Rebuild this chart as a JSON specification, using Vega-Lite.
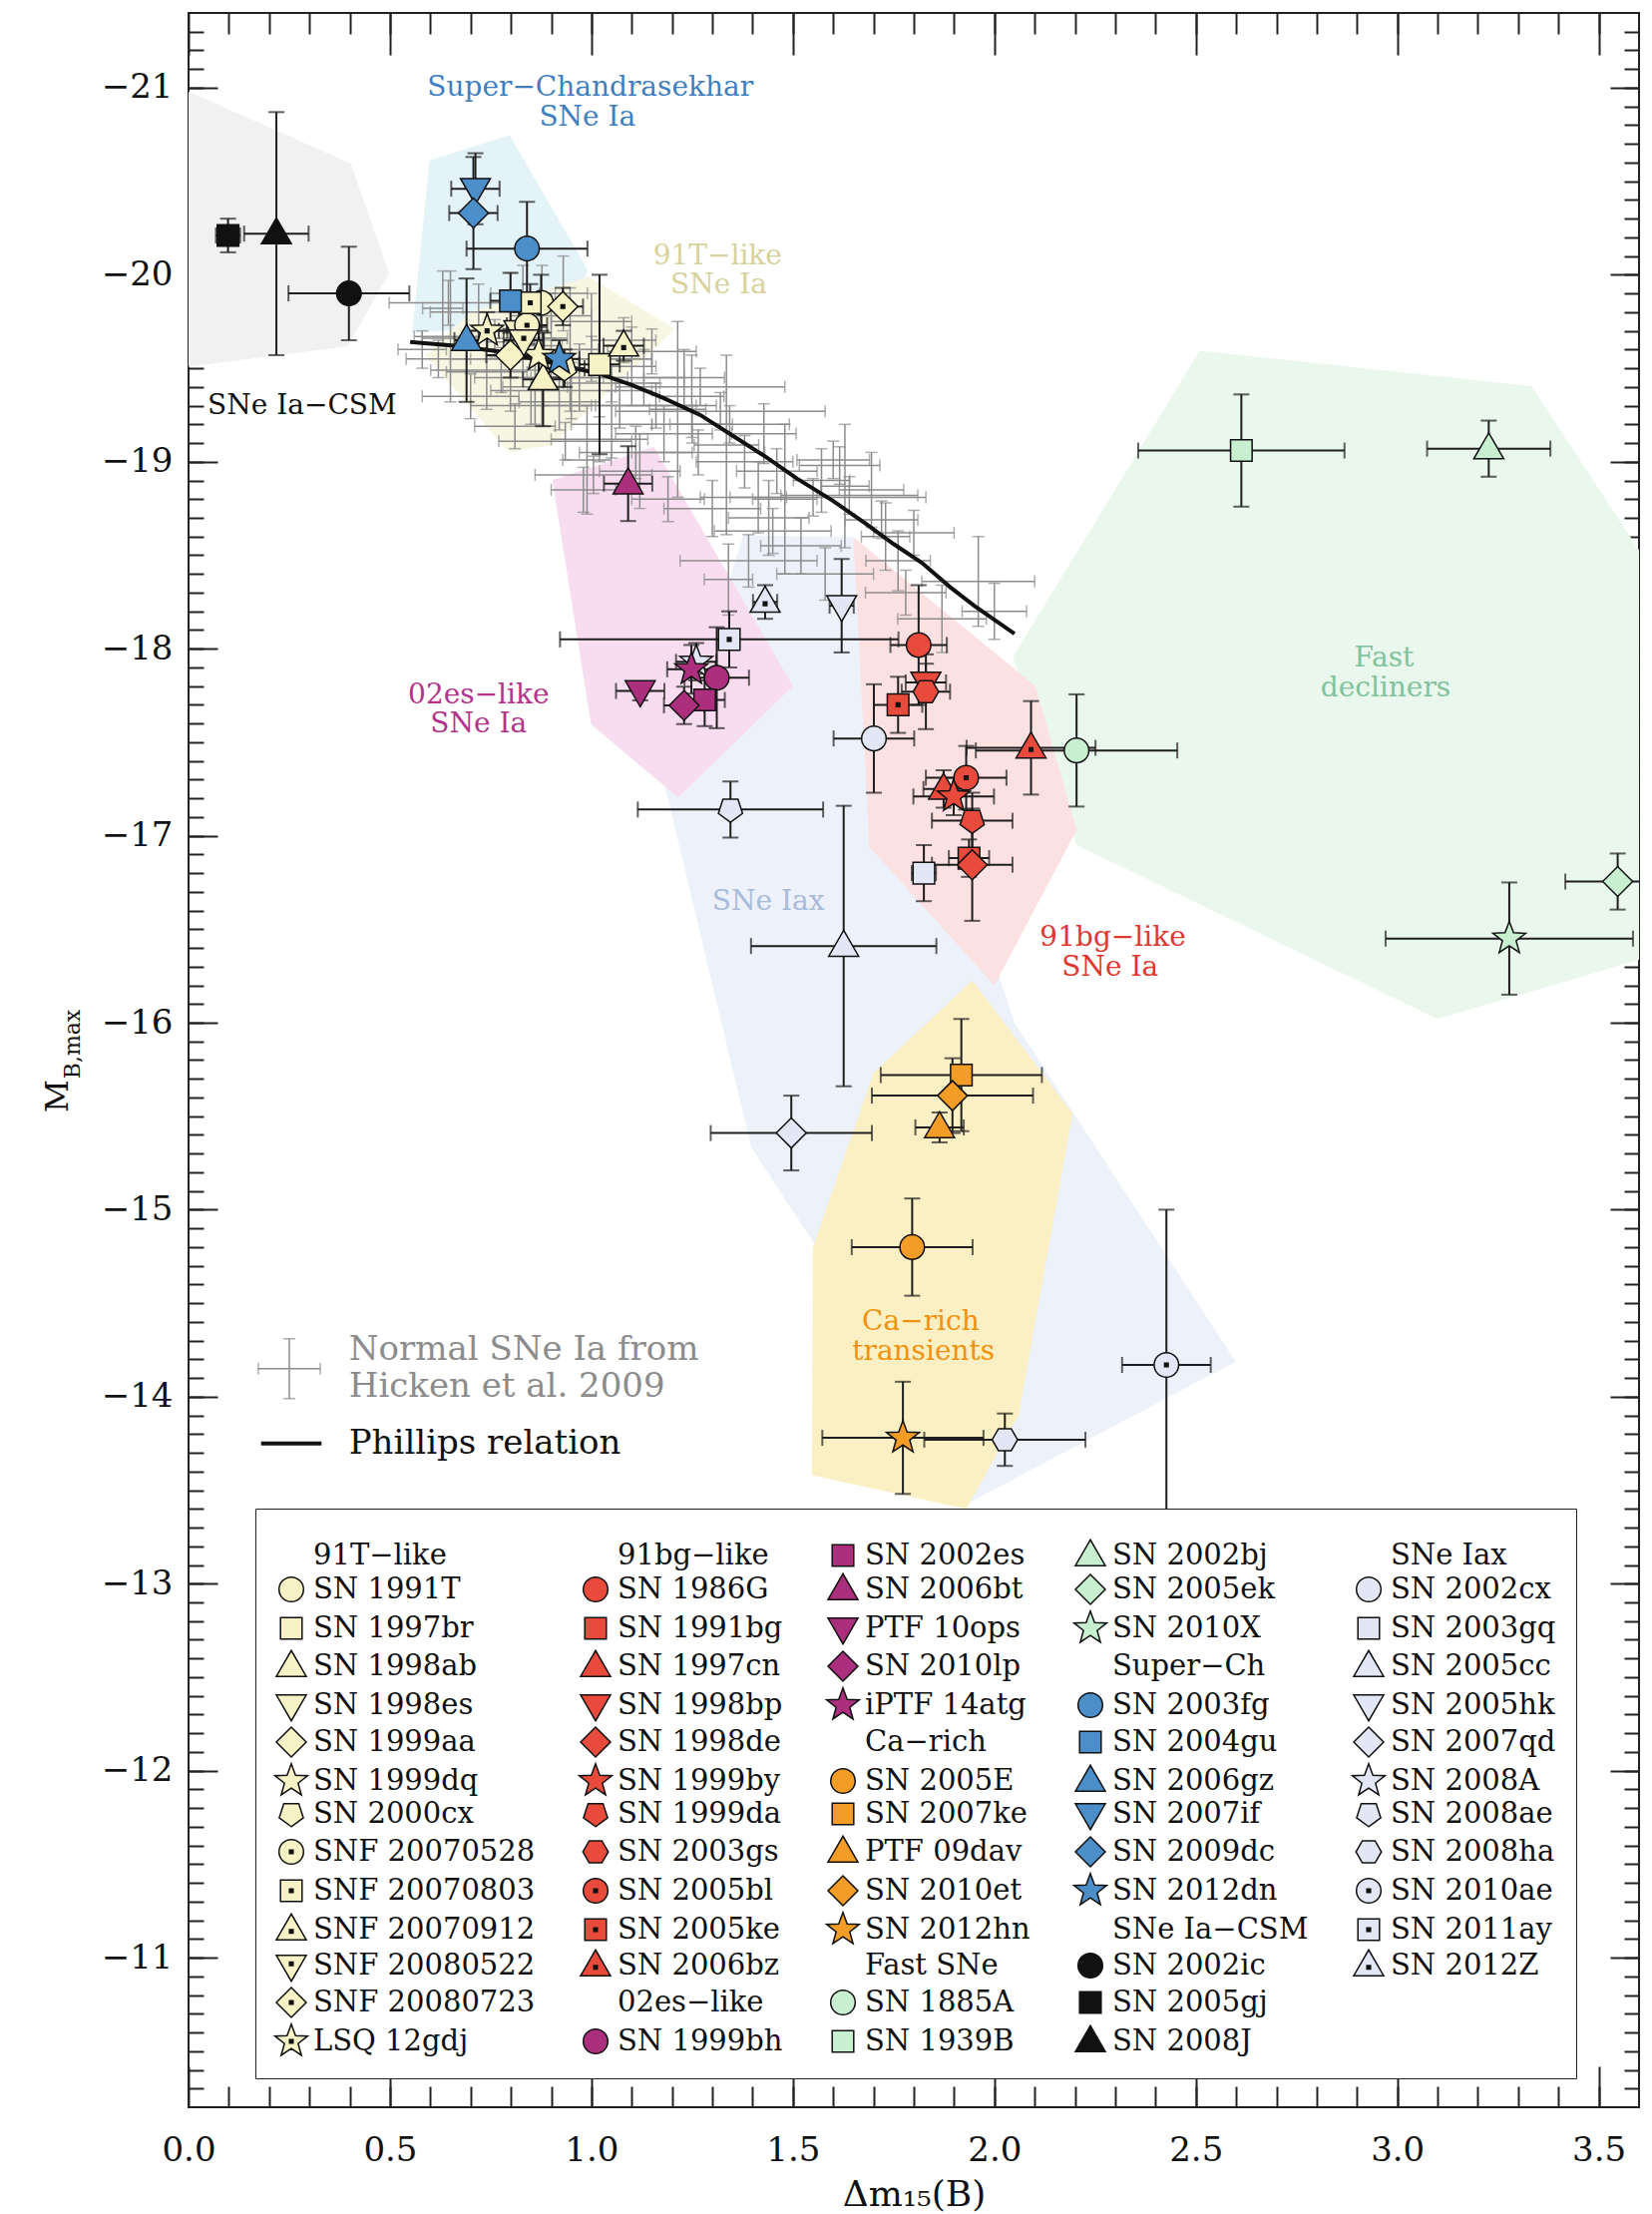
{
  "$schema": "https://vega.github.io/schema/vega-lite/v6.json",
  "width": 1454,
  "height": 2099,
  "autosize": "none",
  "padding": {"left": 189, "top": 13, "right": 13, "bottom": 107},
  "background": "white",
  "datasets": {
    "regions": [
      {"region": "r1csm", "i": 1, "dm": 0, "M": -20.98},
      {"region": "r1csm", "i": 2, "dm": 0.403, "M": -20.594},
      {"region": "r1csm", "i": 3, "dm": 0.498, "M": -20.007},
      {"region": "r1csm", "i": 4, "dm": 0.394, "M": -19.616},
      {"region": "r1csm", "i": 5, "dm": 0, "M": -19.509},
      {"region": "r2iax", "i": 1, "dm": 1.376, "M": -18.606},
      {"region": "r2iax", "i": 2, "dm": 1.65, "M": -18.597},
      {"region": "r2iax", "i": 3, "dm": 2.05, "M": -16.0},
      {"region": "r2iax", "i": 4, "dm": 2.599, "M": -14.187},
      {"region": "r2iax", "i": 5, "dm": 1.933, "M": -13.428},
      {"region": "r2iax", "i": 6, "dm": 1.75, "M": -13.6},
      {"region": "r2iax", "i": 7, "dm": 1.55, "M": -14.83},
      {"region": "r2iax", "i": 8, "dm": 1.397, "M": -15.33},
      {"region": "r2iax", "i": 9, "dm": 1.184, "M": -17.253},
      {"region": "r3sch", "i": 1, "dm": 0.598, "M": -20.612},
      {"region": "r3sch", "i": 2, "dm": 0.797, "M": -20.746},
      {"region": "r3sch", "i": 3, "dm": 0.991, "M": -20.025},
      {"region": "r3sch", "i": 4, "dm": 0.93, "M": -19.75},
      {"region": "r3sch", "i": 5, "dm": 0.555, "M": -19.687},
      {"region": "r4t91", "i": 1, "dm": 0.993, "M": -19.99},
      {"region": "r4t91", "i": 2, "dm": 1.207, "M": -19.71},
      {"region": "r4t91", "i": 3, "dm": 0.902, "M": -19.09},
      {"region": "r4t91", "i": 4, "dm": 0.795, "M": -19.05},
      {"region": "r4t91", "i": 5, "dm": 0.588, "M": -19.57},
      {"region": "r4t91", "i": 6, "dm": 0.7, "M": -19.8},
      {"region": "r5fast", "i": 1, "dm": 2.51, "M": -19.594},
      {"region": "r5fast", "i": 2, "dm": 3.333, "M": -19.404},
      {"region": "r5fast", "i": 3, "dm": 3.7, "M": -18.2},
      {"region": "r5fast", "i": 4, "dm": 3.7, "M": -16.4},
      {"region": "r5fast", "i": 5, "dm": 3.1, "M": -16.02},
      {"region": "r5fast", "i": 6, "dm": 2.204, "M": -16.95},
      {"region": "r5fast", "i": 7, "dm": 2.046, "M": -17.955},
      {"region": "r6es02", "i": 1, "dm": 0.903, "M": -18.901},
      {"region": "r6es02", "i": 2, "dm": 1.155, "M": -19.08},
      {"region": "r6es02", "i": 3, "dm": 1.5, "M": -17.8},
      {"region": "r6es02", "i": 4, "dm": 1.215, "M": -17.205},
      {"region": "r6es02", "i": 5, "dm": 0.999, "M": -17.595},
      {"region": "r7bg91", "i": 1, "dm": 1.65, "M": -18.597},
      {"region": "r7bg91", "i": 2, "dm": 2.102, "M": -17.8},
      {"region": "r7bg91", "i": 3, "dm": 2.204, "M": -17.03},
      {"region": "r7bg91", "i": 4, "dm": 2.0, "M": -16.2},
      {"region": "r7bg91", "i": 5, "dm": 1.69, "M": -16.94},
      {"region": "r8ca", "i": 1, "dm": 1.945, "M": -16.226},
      {"region": "r8ca", "i": 2, "dm": 2.194, "M": -15.516},
      {"region": "r8ca", "i": 3, "dm": 2.06, "M": -13.9},
      {"region": "r8ca", "i": 4, "dm": 1.93, "M": -13.4},
      {"region": "r8ca", "i": 5, "dm": 1.547, "M": -13.58},
      {"region": "r8ca", "i": 6, "dm": 1.55, "M": -14.8},
      {"region": "r8ca", "i": 7, "dm": 1.7, "M": -15.73}
    ],
    "hicken": [
      {"dm": 0.65, "M": -19.67, "dmErr": 0.09, "MErr": 0.35},
      {"dm": 0.776, "M": -19.49, "dmErr": 0.175, "MErr": 0.12},
      {"dm": 0.88, "M": -19.45, "dmErr": 0.17, "MErr": 0.15},
      {"dm": 0.81, "M": -19.19, "dmErr": 0.1, "MErr": 0.12},
      {"dm": 0.799, "M": -19.64, "dmErr": 0.06, "MErr": 0.37},
      {"dm": 0.947, "M": -19.6, "dmErr": 0.07, "MErr": 0.33},
      {"dm": 0.877, "M": -19.62, "dmErr": 0.05, "MErr": 0.43},
      {"dm": 0.76, "M": -19.66, "dmErr": 0.18, "MErr": 0.1},
      {"dm": 1.07, "M": -19.3, "dmErr": 0.19, "MErr": 0.12},
      {"dm": 0.935, "M": -19.11, "dmErr": 0.165, "MErr": 0.1},
      {"dm": 1.005, "M": -18.93, "dmErr": 0.145, "MErr": 0.1},
      {"dm": 0.989, "M": -19.01, "dmErr": 0.06, "MErr": 0.29},
      {"dm": 0.72, "M": -19.8, "dmErr": 0.12, "MErr": 0.15},
      {"dm": 0.7, "M": -19.35, "dmErr": 0.12, "MErr": 0.12},
      {"dm": 0.83, "M": -19.9, "dmErr": 0.08, "MErr": 0.15},
      {"dm": 0.9, "M": -19.78, "dmErr": 0.1, "MErr": 0.12},
      {"dm": 0.86, "M": -19.4, "dmErr": 0.08, "MErr": 0.2},
      {"dm": 0.92, "M": -19.32, "dmErr": 0.1, "MErr": 0.15},
      {"dm": 0.97, "M": -19.45, "dmErr": 0.12, "MErr": 0.18},
      {"dm": 0.62, "M": -19.55, "dmErr": 0.08, "MErr": 0.1},
      {"dm": 0.645, "M": -19.85, "dmErr": 0.147, "MErr": 0.12},
      {"dm": 0.631, "M": -19.82, "dmErr": 0.05, "MErr": 0.2},
      {"dm": 1.15, "M": -19.59, "dmErr": 0.11, "MErr": 0.12},
      {"dm": 1.1, "M": -19.51, "dmErr": 0.06, "MErr": 0.21},
      {"dm": 1.249, "M": -19.35, "dmErr": 0.08, "MErr": 0.22},
      {"dm": 1.27, "M": -19.4, "dmErr": 0.21, "MErr": 0.1},
      {"dm": 1.32, "M": -19.27, "dmErr": 0.26, "MErr": 0.1},
      {"dm": 1.214, "M": -19.28, "dmErr": 0.07, "MErr": 0.47},
      {"dm": 1.335, "M": -19.09, "dmErr": 0.08, "MErr": 0.48},
      {"dm": 1.265, "M": -19.05, "dmErr": 0.165, "MErr": 0.12},
      {"dm": 1.414, "M": -18.81, "dmErr": 0.07, "MErr": 0.19},
      {"dm": 1.45, "M": -18.63, "dmErr": 0.145, "MErr": 0.12},
      {"dm": 1.39, "M": -18.47, "dmErr": 0.17, "MErr": 0.14},
      {"dm": 1.34, "M": -18.37, "dmErr": 0.06, "MErr": 0.19},
      {"dm": 1.343, "M": -19.2, "dmErr": 0.148, "MErr": 0.1},
      {"dm": 1.18, "M": -19.15, "dmErr": 0.12, "MErr": 0.15},
      {"dm": 1.05, "M": -19.2, "dmErr": 0.1, "MErr": 0.18},
      {"dm": 1.12, "M": -18.95, "dmErr": 0.1, "MErr": 0.2},
      {"dm": 1.428, "M": -19.15, "dmErr": 0.08, "MErr": 0.16},
      {"dm": 1.23, "M": -19.45, "dmErr": 0.1, "MErr": 0.15},
      {"dm": 1.3, "M": -18.75, "dmErr": 0.12, "MErr": 0.15},
      {"dm": 1.19, "M": -18.8, "dmErr": 0.09, "MErr": 0.12},
      {"dm": 1.48, "M": -18.8, "dmErr": 0.08, "MErr": 0.4},
      {"dm": 1.629, "M": -18.87, "dmErr": 0.06, "MErr": 0.33},
      {"dm": 1.571, "M": -18.9, "dmErr": 0.07, "MErr": 0.17},
      {"dm": 1.616, "M": -18.98, "dmErr": 0.1, "MErr": 0.1},
      {"dm": 1.6, "M": -19.01, "dmErr": 0.09, "MErr": 0.1},
      {"dm": 1.55, "M": -18.81, "dmErr": 0.28, "MErr": 0.1},
      {"dm": 1.64, "M": -18.82, "dmErr": 0.17, "MErr": 0.1},
      {"dm": 1.695, "M": -18.85, "dmErr": 0.08, "MErr": 0.2},
      {"dm": 1.73, "M": -18.6, "dmErr": 0.06, "MErr": 0.18},
      {"dm": 1.761, "M": -18.47, "dmErr": 0.08, "MErr": 0.16},
      {"dm": 1.78, "M": -18.3, "dmErr": 0.1, "MErr": 0.12},
      {"dm": 1.96, "M": -18.36, "dmErr": 0.14, "MErr": 0.24},
      {"dm": 1.87, "M": -18.16, "dmErr": 0.11, "MErr": 0.18},
      {"dm": 1.72, "M": -18.69, "dmErr": 0.09, "MErr": 0.1},
      {"dm": 1.52, "M": -18.55, "dmErr": 0.1, "MErr": 0.15},
      {"dm": 1.8, "M": -18.62, "dmErr": 0.1, "MErr": 0.12},
      {"dm": 2.0, "M": -18.2, "dmErr": 0.08, "MErr": 0.15},
      {"dm": 1.58, "M": -18.4, "dmErr": 0.12, "MErr": 0.14},
      {"dm": 1.0, "M": -19.55, "dmErr": 0.15, "MErr": 0.12},
      {"dm": 1.05, "M": -19.42, "dmErr": 0.12, "MErr": 0.1},
      {"dm": 0.95, "M": -19.38, "dmErr": 0.2, "MErr": 0.15},
      {"dm": 1.13, "M": -19.45, "dmErr": 0.1, "MErr": 0.15},
      {"dm": 1.08, "M": -19.65, "dmErr": 0.08, "MErr": 0.12},
      {"dm": 0.85, "M": -19.3, "dmErr": 0.15, "MErr": 0.1},
      {"dm": 0.74, "M": -19.48, "dmErr": 0.1, "MErr": 0.2},
      {"dm": 1.02, "M": -19.12, "dmErr": 0.12, "MErr": 0.12},
      {"dm": 1.16, "M": -19.3, "dmErr": 0.15, "MErr": 0.12},
      {"dm": 1.25, "M": -19.2, "dmErr": 0.1, "MErr": 0.1},
      {"dm": 0.9, "M": -19.55, "dmErr": 0.25, "MErr": 0.1},
      {"dm": 1.0, "M": -19.75, "dmErr": 0.1, "MErr": 0.15},
      {"dm": 0.93, "M": -19.9, "dmErr": 0.06, "MErr": 0.2},
      {"dm": 1.11, "M": -19.05, "dmErr": 0.14, "MErr": 0.14},
      {"dm": 1.38, "M": -19.0, "dmErr": 0.12, "MErr": 0.14},
      {"dm": 1.46, "M": -18.95, "dmErr": 0.1, "MErr": 0.12},
      {"dm": 0.83, "M": -19.55, "dmErr": 0.14, "MErr": 0.1},
      {"dm": 0.98, "M": -18.85, "dmErr": 0.08, "MErr": 0.12},
      {"dm": 1.44, "M": -18.7, "dmErr": 0.1, "MErr": 0.2},
      {"dm": 0.58, "M": -19.6, "dmErr": 0.06, "MErr": 0.1}
    ],
    "curve": [
      {"dm": 0.55, "M": -19.64}, {"dm": 0.66, "M": -19.62}, {"dm": 0.77, "M": -19.59},
      {"dm": 0.9, "M": -19.53}, {"dm": 1.02, "M": -19.47}, {"dm": 1.1, "M": -19.41},
      {"dm": 1.18, "M": -19.34}, {"dm": 1.27, "M": -19.25}, {"dm": 1.35, "M": -19.14},
      {"dm": 1.43, "M": -19.03}, {"dm": 1.51, "M": -18.91}, {"dm": 1.6, "M": -18.79},
      {"dm": 1.68, "M": -18.67}, {"dm": 1.75, "M": -18.56}, {"dm": 1.82, "M": -18.46},
      {"dm": 1.89, "M": -18.33}, {"dm": 1.95, "M": -18.23}, {"dm": 2.05, "M": -18.08}
    ],
    "sne": [
      {"name": "SN 2002cx", "dm": 1.701, "M": -17.52, "dmErr": 0.1, "MErr": 0.29},
      {"name": "SN 2003gq", "dm": 1.825, "M": -16.8, "dmErr": 0.03, "MErr": 0.15},
      {"name": "SN 2005cc", "dm": 1.626, "M": -16.41, "dmErr": 0.23, "MErr": 0.75},
      {"name": "SN 2005hk", "dm": 1.621, "M": -18.23, "dmErr": 0.03, "MErr": 0.25},
      {"name": "SN 2007qd", "dm": 1.496, "M": -15.41, "dmErr": 0.2, "MErr": 0.2},
      {"name": "SN 2008A", "dm": 1.26, "M": -17.93, "dmErr": 0.05, "MErr": 0.1},
      {"name": "SN 2008ae", "dm": 1.345, "M": -17.14, "dmErr": 0.23, "MErr": 0.15},
      {"name": "SN 2008ha", "dm": 2.026, "M": -13.77, "dmErr": 0.2, "MErr": 0.14},
      {"name": "SN 2010ae", "dm": 2.427, "M": -14.17, "dmErr": 0.11, "MErr": 0.83},
      {"name": "SN 2011ay", "dm": 1.342, "M": -18.05, "dmErr": 0.42, "MErr": 0.15},
      {"name": "SN 2012Z", "dm": 1.431, "M": -18.25, "dmErr": 0.03, "MErr": 0.09},
      {"name": "SN 1999bh", "dm": 1.311, "M": -17.845, "dmErr": 0.08, "MErr": 0.27},
      {"name": "SN 2002es", "dm": 1.281, "M": -17.726, "dmErr": 0.05, "MErr": 0.14},
      {"name": "SN 2006bt", "dm": 1.091, "M": -18.883, "dmErr": 0.06, "MErr": 0.2},
      {"name": "PTF 10ops", "dm": 1.121, "M": -17.774, "dmErr": 0.06, "MErr": 0.05},
      {"name": "SN 2010lp", "dm": 1.23, "M": -17.697, "dmErr": 0.05, "MErr": 0.1},
      {"name": "iPTF 14atg", "dm": 1.248, "M": -17.89, "dmErr": 0.06, "MErr": 0.13},
      {"name": "SN 1986G", "dm": 1.812, "M": -18.02, "dmErr": 0.07, "MErr": 0.32},
      {"name": "SN 1991bg", "dm": 1.937, "M": -16.88, "dmErr": 0.05, "MErr": 0.1},
      {"name": "SN 1997cn", "dm": 1.874, "M": -17.25, "dmErr": 0.05, "MErr": 0.1},
      {"name": "SN 1998bp", "dm": 1.83, "M": -17.82, "dmErr": 0.05, "MErr": 0.1},
      {"name": "SN 1998de", "dm": 1.945, "M": -16.845, "dmErr": 0.1, "MErr": 0.3},
      {"name": "SN 1999by", "dm": 1.899, "M": -17.21, "dmErr": 0.1, "MErr": 0.1},
      {"name": "SN 1999da", "dm": 1.945, "M": -17.08, "dmErr": 0.1, "MErr": 0.15},
      {"name": "SN 2003gs", "dm": 1.83, "M": -17.77, "dmErr": 0.06, "MErr": 0.2},
      {"name": "SN 2005bl", "dm": 1.93, "M": -17.31, "dmErr": 0.1, "MErr": 0.17},
      {"name": "SN 2005ke", "dm": 1.761, "M": -17.7, "dmErr": 0.06, "MErr": 0.15},
      {"name": "SN 2006bz", "dm": 2.091, "M": -17.47, "dmErr": 0.16, "MErr": 0.25},
      {"name": "SN 2005E", "dm": 1.796, "M": -14.8, "dmErr": 0.15, "MErr": 0.26},
      {"name": "SN 2007ke", "dm": 1.918, "M": -15.72, "dmErr": 0.2, "MErr": 0.3},
      {"name": "PTF 09dav", "dm": 1.864, "M": -15.44, "dmErr": 0.06, "MErr": 0.08},
      {"name": "SN 2010et", "dm": 1.896, "M": -15.61, "dmErr": 0.2, "MErr": 0.2},
      {"name": "SN 2012hn", "dm": 1.773, "M": -13.78, "dmErr": 0.2, "MErr": 0.3},
      {"name": "SN 1885A", "dm": 2.204, "M": -17.456, "dmErr": 0.25, "MErr": 0.3},
      {"name": "SN 1939B", "dm": 2.613, "M": -19.06, "dmErr": 0.256, "MErr": 0.3},
      {"name": "SN 2002bj", "dm": 3.227, "M": -19.07, "dmErr": 0.153, "MErr": 0.15},
      {"name": "SN 2005ek", "dm": 3.547, "M": -16.755, "dmErr": 0.13, "MErr": 0.15},
      {"name": "SN 2010X", "dm": 3.278, "M": -16.45, "dmErr": 0.307, "MErr": 0.3},
      {"name": "SN 2002ic", "dm": 0.398, "M": -19.9, "dmErr": 0.15, "MErr": 0.25},
      {"name": "SN 2005gj", "dm": 0.098, "M": -20.21, "dmErr": 0.03, "MErr": 0.09},
      {"name": "SN 2008J", "dm": 0.218, "M": -20.22, "dmErr": 0.08, "MErr": 0.65},
      {"name": "SN 1991T", "dm": 0.875, "M": -19.85, "dmErr": 0.05, "MErr": 0.15},
      {"name": "SN 1997br", "dm": 1.02, "M": -19.52, "dmErr": 0.05, "MErr": 0.48},
      {"name": "SN 1998ab", "dm": 0.88, "M": -19.44, "dmErr": 0.05, "MErr": 0.25},
      {"name": "SN 1998es", "dm": 0.82, "M": -19.7, "dmErr": 0.05, "MErr": 0.1},
      {"name": "SN 1999aa", "dm": 0.799, "M": -19.57, "dmErr": 0.06, "MErr": 0.12},
      {"name": "SN 1999dq", "dm": 0.869, "M": -19.57, "dmErr": 0.05, "MErr": 0.15},
      {"name": "SN 2000cx", "dm": 0.933, "M": -19.5, "dmErr": 0.05, "MErr": 0.1},
      {"name": "SNF 20070528", "dm": 0.84, "M": -19.73, "dmErr": 0.05, "MErr": 0.1},
      {"name": "SNF 20070803", "dm": 0.848, "M": -19.85, "dmErr": 0.05, "MErr": 0.1},
      {"name": "SNF 20070912", "dm": 1.08, "M": -19.62, "dmErr": 0.05, "MErr": 0.08},
      {"name": "SNF 20080522", "dm": 0.832, "M": -19.65, "dmErr": 0.05, "MErr": 0.1},
      {"name": "SNF 20080723", "dm": 0.929, "M": -19.83, "dmErr": 0.05, "MErr": 0.1},
      {"name": "LSQ 12gdj", "dm": 0.741, "M": -19.7, "dmErr": 0.05, "MErr": 0.1},
      {"name": "SN 2003fg", "dm": 0.84, "M": -20.14, "dmErr": 0.15, "MErr": 0.25},
      {"name": "SN 2004gu", "dm": 0.799, "M": -19.86, "dmErr": 0.05, "MErr": 0.15},
      {"name": "SN 2006gz", "dm": 0.69, "M": -19.65, "dmErr": 0.03, "MErr": 0.33},
      {"name": "SN 2007if", "dm": 0.712, "M": -20.46, "dmErr": 0.06, "MErr": 0.19},
      {"name": "SN 2009dc", "dm": 0.707, "M": -20.33, "dmErr": 0.06, "MErr": 0.3},
      {"name": "SN 2012dn", "dm": 0.92, "M": -19.55, "dmErr": 0.05, "MErr": 0.1}
    ],
    "notes": [
      {"t": "Super−Chandrasekhar", "dm": 0.997, "M": -21.0, "g": "sch"},
      {"t": "SNe Ia", "dm": 0.99, "M": -20.842, "g": "sch"},
      {"t": "91T−like", "dm": 1.313, "M": -20.1, "g": "t91"},
      {"t": "SNe Ia", "dm": 1.316, "M": -19.944, "g": "t91"},
      {"t": "SNe Ia−CSM", "dm": 0.282, "M": -19.295, "g": "csm"},
      {"t": "02es−like", "dm": 0.72, "M": -17.75, "g": "es02"},
      {"t": "SNe Ia", "dm": 0.72, "M": -17.594, "g": "es02"},
      {"t": "SNe Iax", "dm": 1.439, "M": -16.645, "g": "iax"},
      {"t": "91bg−like", "dm": 2.294, "M": -16.452, "g": "bg91"},
      {"t": "SNe Ia", "dm": 2.287, "M": -16.296, "g": "bg91"},
      {"t": "Fast", "dm": 2.967, "M": -17.946, "g": "fast"},
      {"t": "decliners", "dm": 2.971, "M": -17.79, "g": "fast"},
      {"t": "Ca−rich", "dm": 1.817, "M": -14.397, "g": "ca"},
      {"t": "transients", "dm": 1.824, "M": -14.241, "g": "ca"}
    ],
    "keyText": [
      {"t": "Normal SNe Ia from", "dm": 0.398, "M": -14.249, "g": "hicken"},
      {"t": "Hicken et al. 2009", "dm": 0.398, "M": -14.053, "g": "hicken"},
      {"t": "Phillips relation", "dm": 0.398, "M": -13.75, "g": "phillips"}
    ],
    "keyCross": [{"dm": 0.25, "M": -14.15, "dmErr": 0.077, "MErr": 0.16}],
    "keyLine": [{"dm": 0.18, "M": -13.75}, {"dm": 0.33, "M": -13.75}]
  },
  "resolve": {
    "scale": {"color": "independent", "shape": "independent"},
    "legend": {"color": "independent", "shape": "independent"},
    "axis": {"x": "independent", "y": "independent"}
  },
  "layer": [
    {
      "data": {"name": "regions"},
      "mark": {"type": "line", "filled": true, "interpolate": "linear-closed", "clip": true, "strokeWidth": 0},
      "encoding": {
        "x": {
          "field": "dm", "type": "quantitative",
          "scale": {"domain": [0, 3.6], "nice": false, "zero": false},
          "axis": {
            "orient": "bottom", "values": [0, 0.5, 1, 1.5, 2, 2.5, 3, 3.5], "format": ".1f",
            "tickSize": -41, "labelPadding": 94, "labelBaseline": "alphabetic", "labelFontSize": 34,
            "labelFlush": false, "labelOverlap": false,
            "title": "Δm₁₅(B)", "titleFontSize": 36, "titleY": 98, "titleBaseline": "alphabetic"
          }
        },
        "y": {
          "field": "M", "type": "quantitative",
          "scale": {"domain": [-21.4, -10.2], "nice": false, "zero": false, "reverse": true},
          "axis": {
            "orient": "left", "values": [-21, -20, -19, -18, -17, -16, -15, -14, -13, -12, -11], "format": "d",
            "tickSize": -29, "labelPadding": 45, "labelFontSize": 34, "labelBaseline": "middle",
            "labelFlush": false, "labelOverlap": false,
            "title": "M", "titleFontSize": 32, "titleX": -132, "titleY": 1085, "titleBaseline": "middle", "titleAngle": -90, "titleAlign": "center"
          }
        },
        "order": {"field": "i", "type": "quantitative"},
        "color": {
          "field": "region", "type": "nominal", "legend": null,
          "scale": {
            "domain": ["r1csm", "r2iax", "r3sch", "r4t91", "r5fast", "r6es02", "r7bg91", "r8ca"],
            "range": ["#f1f1f1", "#edf1f9", "#e3f3f8", "#f6f6e2", "#eaf7ed", "#f7ddef", "#fbe1e1", "#fbf0c3"]
          }
        }
      }
    },
    {
      "data": {"name": "hicken"},
      "mark": {"type": "errorbar", "ticks": true, "size": 12, "thickness": 1.5, "color": "#8c8c8c"},
      "encoding": {
        "x": {"field": "dm", "type": "quantitative", "scale": {"domain": [0, 3.6], "nice": false, "zero": false}, "axis": null},
        "xError": {"field": "dmErr"},
        "y": {"field": "M", "type": "quantitative", "scale": {"domain": [-21.4, -10.2], "nice": false, "zero": false, "reverse": true}, "axis": null}
      }
    },
    {
      "data": {"name": "hicken"},
      "mark": {"type": "errorbar", "ticks": true, "size": 12, "thickness": 1.5, "color": "#8c8c8c"},
      "encoding": {
        "y": {"field": "M", "type": "quantitative", "scale": {"domain": [-21.4, -10.2], "nice": false, "zero": false, "reverse": true}, "axis": null},
        "yError": {"field": "MErr"},
        "x": {"field": "dm", "type": "quantitative", "scale": {"domain": [0, 3.6], "nice": false, "zero": false}, "axis": null}
      }
    },
    {
      "data": {"name": "curve"},
      "mark": {"type": "line", "color": "#111", "strokeWidth": 4},
      "encoding": {
        "x": {
          "field": "dm", "type": "quantitative", "scale": {"domain": [0, 3.6], "nice": false, "zero": false},
          "axis": {"orient": "top", "values": [0, 0.5, 1, 1.5, 2, 2.5, 3, 3.5], "tickSize": -42, "labels": false, "title": null}
        },
        "y": {
          "field": "M", "type": "quantitative", "scale": {"domain": [-21.4, -10.2], "nice": false, "zero": false, "reverse": true},
          "axis": {"orient": "right", "values": [-21, -20, -19, -18, -17, -16, -15, -14, -13, -12, -11], "tickSize": -29, "labels": false, "title": null}
        },
        "order": {"field": "dm", "type": "quantitative"}
      }
    },
    {
      "data": {"name": "sne"},
      "mark": {"type": "errorbar", "ticks": true, "size": 16, "thickness": 2, "color": "#1e1e1e", "clip": true},
      "encoding": {
        "x": {"field": "dm", "type": "quantitative", "scale": {"domain": [0, 3.6], "nice": false, "zero": false}, "axis": null},
        "xError": {"field": "dmErr"},
        "y": {"field": "M", "type": "quantitative", "scale": {"domain": [-21.4, -10.2], "nice": false, "zero": false, "reverse": true}, "axis": null}
      }
    },
    {
      "data": {"name": "sne"},
      "mark": {"type": "errorbar", "ticks": true, "size": 16, "thickness": 2, "color": "#1e1e1e", "clip": true},
      "encoding": {
        "y": {"field": "M", "type": "quantitative", "scale": {"domain": [-21.4, -10.2], "nice": false, "zero": false, "reverse": true}, "axis": null},
        "yError": {"field": "MErr"},
        "x": {"field": "dm", "type": "quantitative", "scale": {"domain": [0, 3.6], "nice": false, "zero": false}, "axis": null}
      }
    },
    {
      "data": {"name": "keyCross"},
      "mark": {"type": "errorbar", "ticks": true, "size": 12, "thickness": 1.5, "color": "#8c8c8c"},
      "encoding": {
        "x": {"field": "dm", "type": "quantitative", "scale": {"domain": [0, 3.6], "nice": false, "zero": false}, "axis": null},
        "xError": {"field": "dmErr"},
        "y": {"field": "M", "type": "quantitative", "scale": {"domain": [-21.4, -10.2], "nice": false, "zero": false, "reverse": true}, "axis": null}
      }
    },
    {
      "data": {"name": "keyCross"},
      "mark": {"type": "errorbar", "ticks": true, "size": 12, "thickness": 1.5, "color": "#8c8c8c"},
      "encoding": {
        "y": {"field": "M", "type": "quantitative", "scale": {"domain": [-21.4, -10.2], "nice": false, "zero": false, "reverse": true}, "axis": null},
        "yError": {"field": "MErr"},
        "x": {"field": "dm", "type": "quantitative", "scale": {"domain": [0, 3.6], "nice": false, "zero": false}, "axis": null}
      }
    },
    {
      "data": {"name": "keyLine"},
      "mark": {"type": "line", "color": "#111", "strokeWidth": 4},
      "encoding": {
        "x": {"field": "dm", "type": "quantitative", "scale": {"domain": [0, 3.6], "nice": false, "zero": false}, "axis": null},
        "y": {"field": "M", "type": "quantitative", "scale": {"domain": [-21.4, -10.2], "nice": false, "zero": false, "reverse": true}, "axis": null}
      }
    },
    {
      "data": {"name": "sne"},
      "mark": {"type": "point", "filled": true, "opacity": 1, "stroke": "#111", "strokeWidth": 1.5, "size": 900, "clip": true},
      "encoding": {
        "x": {
          "field": "dm", "type": "quantitative", "scale": {"domain": [0, 3.6], "nice": false, "zero": false},
          "axis": {"orient": "top", "values": [0.1, 0.2, 0.3, 0.4, 0.5, 0.6, 0.7, 0.8, 0.9, 1, 1.1, 1.2, 1.3, 1.4, 1.5, 1.6, 1.7, 1.8, 1.9, 2, 2.1, 2.2, 2.3, 2.4, 2.5, 2.6, 2.7, 2.8, 2.9, 3, 3.1, 3.2, 3.3, 3.4, 3.5], "tickSize": -21, "labels": false, "title": null}
        },
        "y": {
          "field": "M", "type": "quantitative", "scale": {"domain": [-21.4, -10.2], "nice": false, "zero": false, "reverse": true},
          "axis": {"orient": "right", "values": [-21.3, -21.2, -21.1, -21, -20.9, -20.8, -20.7, -20.6, -20.5, -20.4, -20.3, -20.2, -20.1, -20, -19.9, -19.8, -19.7, -19.6, -19.5, -19.4, -19.3, -19.2, -19.1, -19, -18.9, -18.8, -18.7, -18.6, -18.5, -18.4, -18.3, -18.2, -18.1, -18, -17.9, -17.8, -17.7, -17.6, -17.5, -17.4, -17.3, -17.2, -17.1, -17, -16.9, -16.8, -16.7, -16.6, -16.5, -16.4, -16.3, -16.2, -16.1, -16, -15.9, -15.8, -15.7, -15.6, -15.5, -15.4, -15.3, -15.2, -15.1, -15, -14.9, -14.8, -14.7, -14.6, -14.5, -14.4, -14.3, -14.2, -14.1, -14, -13.9, -13.8, -13.7, -13.6, -13.5, -13.4, -13.3, -13.2, -13.1, -13, -12.9, -12.8, -12.7, -12.6, -12.5, -12.4, -12.3, -12.2, -12.1, -12, -11.9, -11.8, -11.7, -11.6, -11.5, -11.4, -11.3, -11.2, -11.1, -11, -10.9, -10.8, -10.7, -10.6, -10.5, -10.4, -10.3], "tickSize": -15, "labels": false, "title": null}
        },
        "shape": {
          "field": "name", "type": "nominal",
          "scale": {
            "domain": [
              "91T−like", "SN 1991T", "SN 1997br", "SN 1998ab", "SN 1998es", "SN 1999aa", "SN 1999dq", "SN 2000cx", "SNF 20070528", "SNF 20070803", "SNF 20070912", "SNF 20080522", "SNF 20080723", "LSQ 12gdj",
              "91bg−like", "SN 1986G", "SN 1991bg", "SN 1997cn", "SN 1998bp", "SN 1998de", "SN 1999by", "SN 1999da", "SN 2003gs", "SN 2005bl", "SN 2005ke", "SN 2006bz", "02es−like", "SN 1999bh",
              "SN 2002es", "SN 2006bt", "PTF 10ops", "SN 2010lp", "iPTF 14atg", "Ca−rich", "SN 2005E", "SN 2007ke", "PTF 09dav", "SN 2010et", "SN 2012hn", "Fast SNe", "SN 1885A", "SN 1939B",
              "SN 2002bj", "SN 2005ek", "SN 2010X", "Super−Ch", "SN 2003fg", "SN 2004gu", "SN 2006gz", "SN 2007if", "SN 2009dc", "SN 2012dn", "SNe Ia−CSM", "SN 2002ic", "SN 2005gj", "SN 2008J",
              "SNe Iax", "SN 2002cx", "SN 2003gq", "SN 2005cc", "SN 2005hk", "SN 2007qd", "SN 2008A", "SN 2008ae", "SN 2008ha", "SN 2010ae", "SN 2011ay", "SN 2012Z", " ", "  "
            ],
            "range": [
              "M0,0",
              "M0.82,0A0.82,0.82,0,1,1,-0.82,0A0.82,0.82,0,1,1,0.82,0Z",
              "M-0.72,-0.72L0.72,-0.72L0.72,0.72L-0.72,0.72Z",
              "M0,-1.05L1,0.68L-1,0.68Z",
              "M0,1.05L1,-0.68L-1,-0.68Z",
              "M0,-1L1,0L0,1L-1,0Z",
              "M0,-1.15L0.282,-0.388L1.094,-0.355L0.457,0.148L0.676,0.93L0,0.48L-0.676,0.93L-0.457,0.148L-1.094,-0.355L-0.282,-0.388Z",
              "M0,0.85L-0.808,0.263L-0.5,-0.688L0.5,-0.688L0.808,0.263Z",
              "M0.82,0A0.82,0.82,0,1,1,-0.82,0A0.82,0.82,0,1,1,0.82,0ZM-0.12,-0.12L0.12,-0.12L0.12,0.12L-0.12,0.12ZM-0.04,-0.04L0.04,-0.04L0.04,0.04L-0.04,0.04Z",
              "M-0.72,-0.72L0.72,-0.72L0.72,0.72L-0.72,0.72ZM-0.12,-0.12L0.12,-0.12L0.12,0.12L-0.12,0.12ZM-0.04,-0.04L0.04,-0.04L0.04,0.04L-0.04,0.04Z",
              "M0,-1.05L1,0.68L-1,0.68ZM-0.12,0L0.12,0L0.12,0.24L-0.12,0.24ZM-0.04,0.08L0.04,0.08L0.04,0.16L-0.04,0.16Z",
              "M0,1.05L1,-0.68L-1,-0.68ZM-0.12,-0.24L0.12,-0.24L0.12,0L-0.12,0ZM-0.04,-0.16L0.04,-0.16L0.04,-0.08L-0.04,-0.08Z",
              "M0,-1L1,0L0,1L-1,0ZM-0.12,-0.12L0.12,-0.12L0.12,0.12L-0.12,0.12ZM-0.04,-0.04L0.04,-0.04L0.04,0.04L-0.04,0.04Z",
              "M0,-1.15L0.282,-0.388L1.094,-0.355L0.457,0.148L0.676,0.93L0,0.48L-0.676,0.93L-0.457,0.148L-1.094,-0.355L-0.282,-0.388ZM-0.12,-0.12L0.12,-0.12L0.12,0.12L-0.12,0.12ZM-0.04,-0.04L0.04,-0.04L0.04,0.04L-0.04,0.04Z",

              "M0,0",
              "M0.82,0A0.82,0.82,0,1,1,-0.82,0A0.82,0.82,0,1,1,0.82,0Z",
              "M-0.72,-0.72L0.72,-0.72L0.72,0.72L-0.72,0.72Z",
              "M0,-1.05L1,0.68L-1,0.68Z",
              "M0,1.05L1,-0.68L-1,-0.68Z",
              "M0,-1L1,0L0,1L-1,0Z",
              "M0,-1.15L0.282,-0.388L1.094,-0.355L0.457,0.148L0.676,0.93L0,0.48L-0.676,0.93L-0.457,0.148L-1.094,-0.355L-0.282,-0.388Z",
              "M0,0.85L-0.808,0.263L-0.5,-0.688L0.5,-0.688L0.808,0.263Z",
              "M0.85,0L0.425,0.736L-0.425,0.736L-0.85,0L-0.425,-0.736L0.425,-0.736Z",
              "M0.82,0A0.82,0.82,0,1,1,-0.82,0A0.82,0.82,0,1,1,0.82,0ZM-0.12,-0.12L0.12,-0.12L0.12,0.12L-0.12,0.12ZM-0.04,-0.04L0.04,-0.04L0.04,0.04L-0.04,0.04Z",
              "M-0.72,-0.72L0.72,-0.72L0.72,0.72L-0.72,0.72ZM-0.12,-0.12L0.12,-0.12L0.12,0.12L-0.12,0.12ZM-0.04,-0.04L0.04,-0.04L0.04,0.04L-0.04,0.04Z",
              "M0,-1.05L1,0.68L-1,0.68ZM-0.12,0L0.12,0L0.12,0.24L-0.12,0.24ZM-0.04,0.08L0.04,0.08L0.04,0.16L-0.04,0.16Z",
              "M0,0",
              "M0.82,0A0.82,0.82,0,1,1,-0.82,0A0.82,0.82,0,1,1,0.82,0Z",

              "M-0.72,-0.72L0.72,-0.72L0.72,0.72L-0.72,0.72Z",
              "M0,-1.05L1,0.68L-1,0.68Z",
              "M0,1.05L1,-0.68L-1,-0.68Z",
              "M0,-1L1,0L0,1L-1,0Z",
              "M0,-1.15L0.282,-0.388L1.094,-0.355L0.457,0.148L0.676,0.93L0,0.48L-0.676,0.93L-0.457,0.148L-1.094,-0.355L-0.282,-0.388Z",
              "M0,0",
              "M0.82,0A0.82,0.82,0,1,1,-0.82,0A0.82,0.82,0,1,1,0.82,0Z",
              "M-0.72,-0.72L0.72,-0.72L0.72,0.72L-0.72,0.72Z",
              "M0,-1.05L1,0.68L-1,0.68Z",
              "M0,-1L1,0L0,1L-1,0Z",
              "M0,-1.15L0.282,-0.388L1.094,-0.355L0.457,0.148L0.676,0.93L0,0.48L-0.676,0.93L-0.457,0.148L-1.094,-0.355L-0.282,-0.388Z",
              "M0,0",
              "M0.82,0A0.82,0.82,0,1,1,-0.82,0A0.82,0.82,0,1,1,0.82,0Z",
              "M-0.72,-0.72L0.72,-0.72L0.72,0.72L-0.72,0.72Z",

              "M0,-1.05L1,0.68L-1,0.68Z",
              "M0,-1L1,0L0,1L-1,0Z",
              "M0,-1.15L0.282,-0.388L1.094,-0.355L0.457,0.148L0.676,0.93L0,0.48L-0.676,0.93L-0.457,0.148L-1.094,-0.355L-0.282,-0.388Z",
              "M0,0",
              "M0.82,0A0.82,0.82,0,1,1,-0.82,0A0.82,0.82,0,1,1,0.82,0Z",
              "M-0.72,-0.72L0.72,-0.72L0.72,0.72L-0.72,0.72Z",
              "M0,-1.05L1,0.68L-1,0.68Z",
              "M0,1.05L1,-0.68L-1,-0.68Z",
              "M0,-1L1,0L0,1L-1,0Z",
              "M0,-1.15L0.282,-0.388L1.094,-0.355L0.457,0.148L0.676,0.93L0,0.48L-0.676,0.93L-0.457,0.148L-1.094,-0.355L-0.282,-0.388Z",
              "M0,0",
              "M0.82,0A0.82,0.82,0,1,1,-0.82,0A0.82,0.82,0,1,1,0.82,0Z",
              "M-0.72,-0.72L0.72,-0.72L0.72,0.72L-0.72,0.72Z",
              "M0,-1.05L1,0.68L-1,0.68Z",

              "M0,0",
              "M0.82,0A0.82,0.82,0,1,1,-0.82,0A0.82,0.82,0,1,1,0.82,0Z",
              "M-0.72,-0.72L0.72,-0.72L0.72,0.72L-0.72,0.72Z",
              "M0,-1.05L1,0.68L-1,0.68Z",
              "M0,1.05L1,-0.68L-1,-0.68Z",
              "M0,-1L1,0L0,1L-1,0Z",
              "M0,-1.15L0.282,-0.388L1.094,-0.355L0.457,0.148L0.676,0.93L0,0.48L-0.676,0.93L-0.457,0.148L-1.094,-0.355L-0.282,-0.388Z",
              "M0,0.85L-0.808,0.263L-0.5,-0.688L0.5,-0.688L0.808,0.263Z",
              "M0.85,0L0.425,0.736L-0.425,0.736L-0.85,0L-0.425,-0.736L0.425,-0.736Z",
              "M0.82,0A0.82,0.82,0,1,1,-0.82,0A0.82,0.82,0,1,1,0.82,0ZM-0.12,-0.12L0.12,-0.12L0.12,0.12L-0.12,0.12ZM-0.04,-0.04L0.04,-0.04L0.04,0.04L-0.04,0.04Z",
              "M-0.72,-0.72L0.72,-0.72L0.72,0.72L-0.72,0.72ZM-0.12,-0.12L0.12,-0.12L0.12,0.12L-0.12,0.12ZM-0.04,-0.04L0.04,-0.04L0.04,0.04L-0.04,0.04Z",
              "M0,-1.05L1,0.68L-1,0.68ZM-0.12,0L0.12,0L0.12,0.24L-0.12,0.24ZM-0.04,0.08L0.04,0.08L0.04,0.16L-0.04,0.16Z",
              "M0,0",
              "M0,0"
            ]
          },
          "legend": {
            "orient": "none", "legendX": 67, "legendY": 1499, "columns": 5, "direction": "vertical", "gridAlign": "each",
            "columnPadding": 40, "rowPadding": 0, "padding": 20, "strokeColor": "#222", "fillColor": "white",
            "title": " ", "titleFontSize": 5, "titlePadding": 6,
            "labelFont": "DejaVu Serif", "labelFontSize": 29, "labelColor": "#111", "labelOffset": 6,
            "labelLimit": 400, "symbolLimit": 0, "symbolSize": 900, "symbolStrokeWidth": 1.5, "symbolOpacity": 1
          }
        },
        "color": {
          "field": "name", "type": "nominal",
          "scale": {
            "domain": [
              "91T−like", "SN 1991T", "SN 1997br", "SN 1998ab", "SN 1998es", "SN 1999aa", "SN 1999dq", "SN 2000cx", "SNF 20070528", "SNF 20070803", "SNF 20070912", "SNF 20080522", "SNF 20080723", "LSQ 12gdj",
              "91bg−like", "SN 1986G", "SN 1991bg", "SN 1997cn", "SN 1998bp", "SN 1998de", "SN 1999by", "SN 1999da", "SN 2003gs", "SN 2005bl", "SN 2005ke", "SN 2006bz", "02es−like", "SN 1999bh",
              "SN 2002es", "SN 2006bt", "PTF 10ops", "SN 2010lp", "iPTF 14atg", "Ca−rich", "SN 2005E", "SN 2007ke", "PTF 09dav", "SN 2010et", "SN 2012hn", "Fast SNe", "SN 1885A", "SN 1939B",
              "SN 2002bj", "SN 2005ek", "SN 2010X", "Super−Ch", "SN 2003fg", "SN 2004gu", "SN 2006gz", "SN 2007if", "SN 2009dc", "SN 2012dn", "SNe Ia−CSM", "SN 2002ic", "SN 2005gj", "SN 2008J",
              "SNe Iax", "SN 2002cx", "SN 2003gq", "SN 2005cc", "SN 2005hk", "SN 2007qd", "SN 2008A", "SN 2008ae", "SN 2008ha", "SN 2010ae", "SN 2011ay", "SN 2012Z", " ", "  "
            ],
            "range": [
              "#ffffff", "#f7f2c6", "#f7f2c6", "#f7f2c6", "#f7f2c6", "#f7f2c6", "#f7f2c6", "#f7f2c6", "#f7f2c6", "#f7f2c6", "#f7f2c6", "#f7f2c6", "#f7f2c6", "#f7f2c6",
              "#ffffff", "#e84a3b", "#e84a3b", "#e84a3b", "#e84a3b", "#e84a3b", "#e84a3b", "#e84a3b", "#e84a3b", "#e84a3b", "#e84a3b", "#e84a3b", "#ffffff", "#ac2f7d",
              "#ac2f7d", "#ac2f7d", "#ac2f7d", "#ac2f7d", "#ac2f7d", "#ffffff", "#f39c26", "#f39c26", "#f39c26", "#f39c26", "#f39c26", "#ffffff", "#c8efd0", "#c8efd0",
              "#c8efd0", "#c8efd0", "#c8efd0", "#ffffff", "#4b8ec9", "#4b8ec9", "#4b8ec9", "#4b8ec9", "#4b8ec9", "#4b8ec9", "#ffffff", "#111111", "#111111", "#111111",
              "#ffffff", "#e3e6f5", "#e3e6f5", "#e3e6f5", "#e3e6f5", "#e3e6f5", "#e3e6f5", "#e3e6f5", "#e3e6f5", "#e3e6f5", "#e3e6f5", "#e3e6f5", "#ffffff", "#ffffff"
            ]
          },
          "legend": {
            "orient": "none", "legendX": 67, "legendY": 1499, "columns": 5, "direction": "vertical", "gridAlign": "each",
            "columnPadding": 40, "rowPadding": 0, "padding": 20, "strokeColor": "#222", "fillColor": "white",
            "title": " ", "titleFontSize": 5, "titlePadding": 6,
            "labelFont": "DejaVu Serif", "labelFontSize": 29, "labelColor": "#111", "labelOffset": 6,
            "labelLimit": 400, "symbolLimit": 0, "symbolSize": 900, "symbolStrokeWidth": 1.5, "symbolOpacity": 1
          }
        }
      }
    },
    {
      "data": {"name": "notes"},
      "mark": {"type": "text", "font": "DejaVu Serif", "fontSize": 28, "align": "center", "baseline": "middle"},
      "encoding": {
        "x": {
          "field": "dm", "type": "quantitative", "scale": {"domain": [0, 3.6], "nice": false, "zero": false},
          "axis": {"orient": "bottom", "values": [0.1, 0.2, 0.3, 0.4, 0.5, 0.6, 0.7, 0.8, 0.9, 1, 1.1, 1.2, 1.3, 1.4, 1.5, 1.6, 1.7, 1.8, 1.9, 2, 2.1, 2.2, 2.3, 2.4, 2.5, 2.6, 2.7, 2.8, 2.9, 3, 3.1, 3.2, 3.3, 3.4, 3.5], "tickSize": -21, "labels": false, "title": null}
        },
        "y": {
          "field": "M", "type": "quantitative", "scale": {"domain": [-21.4, -10.2], "nice": false, "zero": false, "reverse": true},
          "axis": {"orient": "left", "values": [-21.3, -21.2, -21.1, -21, -20.9, -20.8, -20.7, -20.6, -20.5, -20.4, -20.3, -20.2, -20.1, -20, -19.9, -19.8, -19.7, -19.6, -19.5, -19.4, -19.3, -19.2, -19.1, -19, -18.9, -18.8, -18.7, -18.6, -18.5, -18.4, -18.3, -18.2, -18.1, -18, -17.9, -17.8, -17.7, -17.6, -17.5, -17.4, -17.3, -17.2, -17.1, -17, -16.9, -16.8, -16.7, -16.6, -16.5, -16.4, -16.3, -16.2, -16.1, -16, -15.9, -15.8, -15.7, -15.6, -15.5, -15.4, -15.3, -15.2, -15.1, -15, -14.9, -14.8, -14.7, -14.6, -14.5, -14.4, -14.3, -14.2, -14.1, -14, -13.9, -13.8, -13.7, -13.6, -13.5, -13.4, -13.3, -13.2, -13.1, -13, -12.9, -12.8, -12.7, -12.6, -12.5, -12.4, -12.3, -12.2, -12.1, -12, -11.9, -11.8, -11.7, -11.6, -11.5, -11.4, -11.3, -11.2, -11.1, -11, -10.9, -10.8, -10.7, -10.6, -10.5, -10.4, -10.3], "tickSize": -15, "labels": false,
            "title": "B,max", "titleFontSize": 22, "titleX": -117, "titleY": 1033, "titleBaseline": "middle", "titleAngle": -90, "titleAlign": "center"}
        },
        "text": {"field": "t"},
        "color": {
          "field": "g", "type": "nominal", "legend": null,
          "scale": {
            "domain": ["sch", "t91", "csm", "es02", "iax", "bg91", "fast", "ca"],
            "range": ["#3f7fc0", "#d8d29c", "#111111", "#b3338a", "#a9bbd9", "#e0382f", "#80c39c", "#f0920f"]
          }
        }
      }
    },
    {
      "data": {"name": "keyText"},
      "mark": {"type": "text", "font": "DejaVu Serif", "fontSize": 34, "align": "left", "baseline": "middle"},
      "encoding": {
        "x": {"field": "dm", "type": "quantitative", "scale": {"domain": [0, 3.6], "nice": false, "zero": false}, "axis": null},
        "y": {"field": "M", "type": "quantitative", "scale": {"domain": [-21.4, -10.2], "nice": false, "zero": false, "reverse": true}, "axis": null},
        "text": {"field": "t"},
        "color": {
          "field": "g", "type": "nominal", "legend": null,
          "scale": {"domain": ["hicken", "phillips"], "range": ["#8c8c8c", "#111111"]}
        }
      }
    }
  ],
  "config": {
    "view": {"stroke": "#222", "strokeWidth": 2},
    "axis": {
      "grid": false, "domain": false, "tickColor": "#222", "tickWidth": 2,
      "labelFont": "DejaVu Serif", "titleFont": "DejaVu Serif", "labelColor": "#111", "titleColor": "#111",
      "titleFontWeight": "normal"
    },
    "text": {"font": "DejaVu Serif"}
  }
}
